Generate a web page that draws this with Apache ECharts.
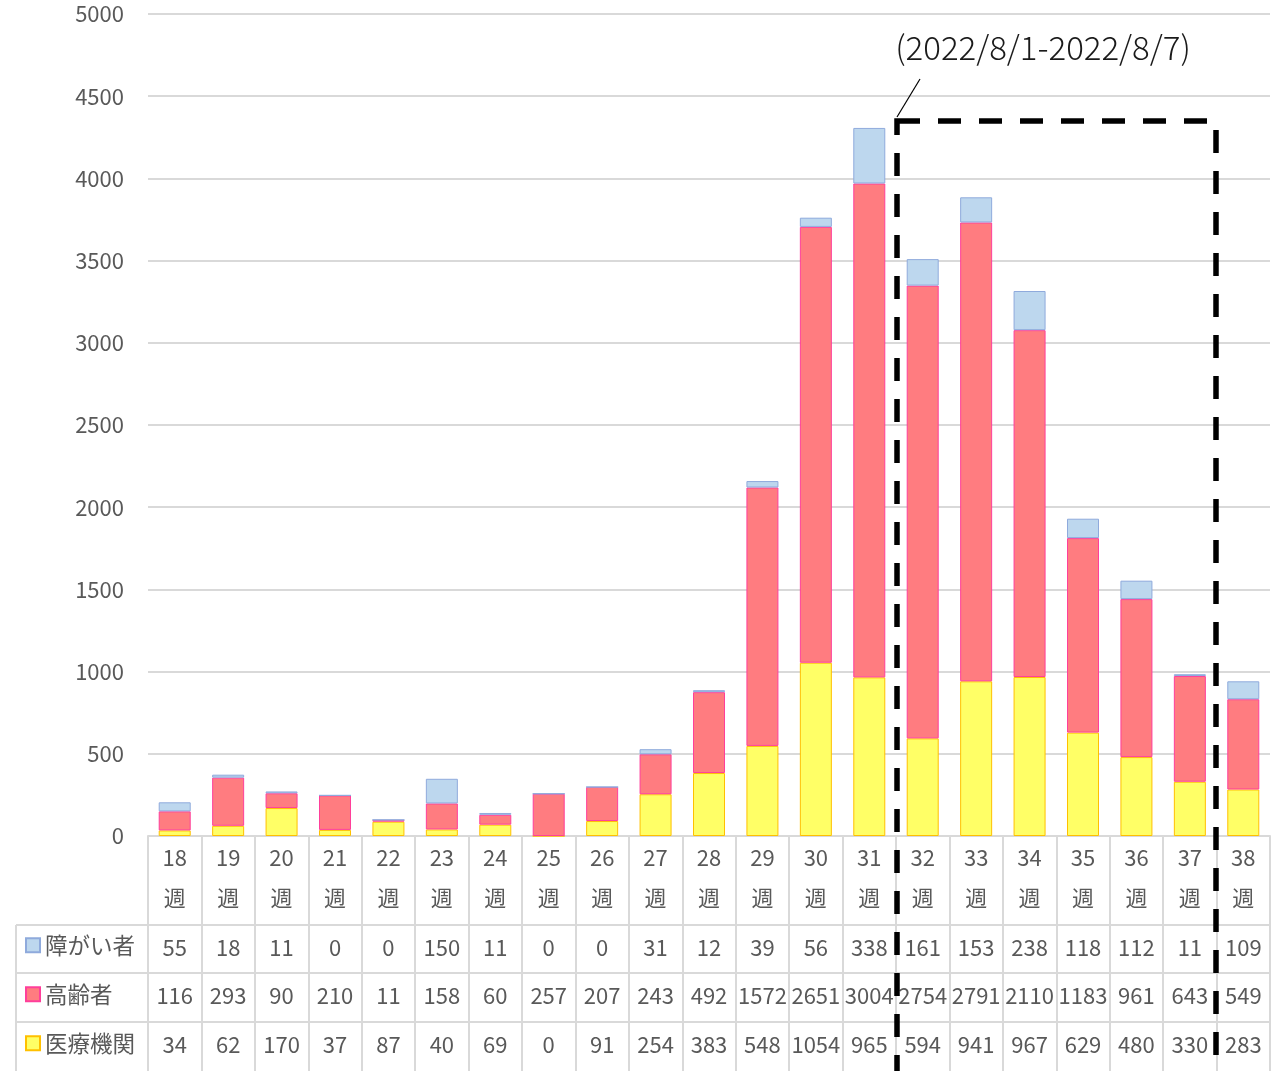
<!DOCTYPE html>
<html><head><meta charset="utf-8">
<script src="https://cdn.jsdelivr.net/npm/echarts@6/dist/echarts.min.js"></script>
<style>html,body{margin:0;padding:0;background:#fff}#c{width:1273px;height:1071px}</style>
</head><body><div id="c"></div>
<script>
const weeks = ['18','19','20','21','22','23','24','25','26','27','28','29','30','31','32','33','34','35','36','37','38'];
const weekSuffix = '週';
const disabled = [55,18,11,0,0,150,11,0,0,31,12,39,56,338,161,153,238,118,112,11,109];
const elderly = [116,293,90,210,11,158,60,257,207,243,492,1572,2651,3004,2754,2791,2110,1183,961,643,549];
const medical = [34,62,170,37,87,40,69,0,91,254,383,548,1054,965,594,941,967,629,480,330,283];
const seriesNames = ['障がい者','高齢者','医療機関'];
const periodNote = '(2022/8/1-2022/8/7)';

const FONT = '"Noto Sans CJK JP","Noto Sans",sans-serif';
const GRAY = '#595959';
const LINE = '#d9d9d9';

const chart = echarts.init(document.getElementById('c'), null, {renderer:'canvas'});

function rowAxis(data, offset){
  return {
    type:'category', gridIndex:0, position:'bottom', offset:offset, data:data.map(String),
    axisLine:{show:true, lineStyle:{color:LINE, width:2}},
    axisTick:{show:true, interval:0, length:49, lineStyle:{color:LINE, width:2}},
    axisLabel:{interval:0, margin:0, lineHeight:45, fontSize:22, color:GRAY, fontFamily:FONT},
    splitLine:{show:false}
  };
}

const legendBase = {orient:'vertical', left:25, padding:0, itemWidth:14, itemHeight:14, itemGap:0,
  textStyle:{fontSize:22.5, color:GRAY, fontFamily:FONT}, icon:'rect', selectedMode:false};

const option = {
  animation:false,
  backgroundColor:'#fff',
  grid:{left:148, right:3, top:14, bottom:235, containLabel:false},
  legend:[
    Object.assign({}, legendBase, {top:934, data:[seriesNames[0]]}),
    Object.assign({}, legendBase, {top:983, data:[seriesNames[1]]}),
    Object.assign({}, legendBase, {top:1032, data:[seriesNames[2]]})
  ],
  xAxis:[
    {
      type:'category', gridIndex:0, position:'bottom', data:weeks.map(w=>w+'\n'+weekSuffix),
      axisLine:{show:true, lineStyle:{color:LINE, width:2}},
      axisTick:{show:true, interval:0, length:89, lineStyle:{color:LINE, width:2}},
      axisLabel:{interval:0, margin:2, lineHeight:40, fontSize:22, color:GRAY, fontFamily:FONT},
      splitLine:{show:false}
    },
    rowAxis(disabled, 89),
    rowAxis(elderly, 137),
    rowAxis(medical, 186)
  ],
  yAxis:{
    type:'value', min:0, max:5000, interval:500,
    axisLine:{show:false}, axisTick:{show:false},
    axisLabel:{margin:24, fontSize:22, color:GRAY, fontFamily:FONT, formatter:v=>String(v)},
    splitLine:{lineStyle:{color:LINE, width:2}}
  },
  series:[
    {name:seriesNames[2], type:'bar', stack:'t', xAxisIndex:0, barWidth:32, data:medical,
      itemStyle:{color:'#ffff66', borderColor:'#ffc000', borderWidth:1}},
    {name:seriesNames[1], type:'bar', stack:'t', xAxisIndex:0, barWidth:32, data:elderly,
      itemStyle:{color:'#ff7c80', borderColor:'#ff3f9a', borderWidth:1}},
    {name:seriesNames[0], type:'bar', stack:'t', xAxisIndex:0, barWidth:32, data:disabled,
      itemStyle:{color:'#bdd7ee', borderColor:'#8faadc', borderWidth:1}}
  ],
  graphic:[
    {type:'line', z:100, shape:{x1:16, y1:925, x2:148, y2:925}, style:{stroke:LINE, lineWidth:2}},
    {type:'line', z:100, shape:{x1:16, y1:973, x2:148, y2:973}, style:{stroke:LINE, lineWidth:2}},
    {type:'line', z:100, shape:{x1:16, y1:1022, x2:148, y2:1022}, style:{stroke:LINE, lineWidth:2}},
    {type:'line', z:100, shape:{x1:16, y1:925, x2:16, y2:1075}, style:{stroke:LINE, lineWidth:2}},
    {type:'rect', z:200, shape:{x:897, y:121, width:319, height:1000},
      style:{fill:null, stroke:'#000', lineWidth:5.5, lineDash:[23,18]}},
    {type:'line', z:200, shape:{x1:920, y1:79, x2:897, y2:117}, style:{stroke:'#000', lineWidth:1.2}},
    {type:'text', z:200, x:1043, y:47, style:{text:periodNote, fontSize:33, fill:'#1a1a1a', fontFamily:FONT,
      fontWeight:300, textAlign:'center', textVerticalAlign:'middle'}}
  ]
};
chart.setOption(option);
</script>
</body></html>
